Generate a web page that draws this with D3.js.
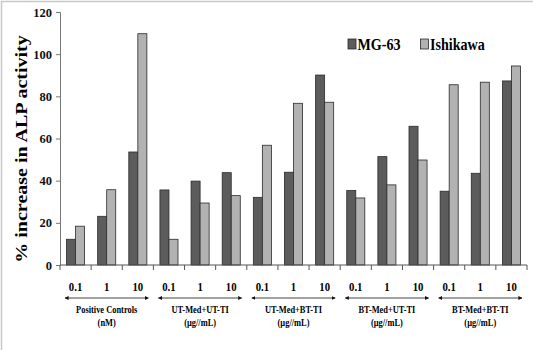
<!DOCTYPE html>
<html>
<head>
<meta charset="utf-8">
<script src="https://cdn.jsdelivr.net/npm/d3@7"></script>
<style>
  body { margin: 0; background: #fff; }
</style>
</head>
<body>
<svg id="chart" width="533" height="350"></svg>
<script>
// chart data
const doses = ["0.1", "1", "10"];
const groups = ["Positive Controls", "UT-Med+UT-TI", "UT-Med+BT-TI", "BT-Med+UT-TI", "BT-Med+BT-TI"];
const groupUnits = ["(nM)", "(\u00b5g//mL)", "(\u00b5g//mL)", "(\u00b5g//mL)", "(\u00b5g//mL)"];
const seriesNames = ["MG-63", "Ishikawa"];
const mg63 = [12.2, 23.1, 53.6, 35.6, 39.8, 43.8, 32.1, 44.0, 90.1, 35.3, 51.4, 65.8, 35.0, 43.5, 87.3];
const ishikawa = [18.4, 35.7, 109.7, 12.2, 29.4, 32.9, 56.8, 76.7, 77.2, 31.8, 38.0, 49.8, 85.5, 86.7, 94.4];
const yTicks = [0, 20, 40, 60, 80, 100, 120];

const colors = { "MG-63": "#5c5c5c", "Ishikawa": "#b2b2b2" };
const FONT = "'Liberation Serif', 'Times New Roman', Times, serif";

const svg = d3.select("#chart")
  .style("font-family", FONT)
  .style("font-weight", "bold");

// frame (left and top edge only, like the original)
svg.append("path")
  .attr("d", "M1.5,350 L1.5,1.5 L533,1.5")
  .attr("fill", "none")
  .attr("stroke", "#c8c8c8")
  .attr("stroke-width", 1.5);

const margin = { left: 60, right: 6, top: 12, bottom: 85 };
const width = 533 - margin.left - margin.right;
const height = 350 - margin.top - margin.bottom;

const g = svg.append("g").attr("transform", `translate(${margin.left},${margin.top})`);

// one band per (group, dose)
const cats = [];
groups.forEach((gr, gi) => doses.forEach((d, di) => cats.push({ key: gi + "_" + di, group: gi, dose: d })));

const x = d3.scaleBand().domain(cats.map(c => c.key)).range([0, width]);
const xInner = d3.scaleBand().domain(seriesNames).range([x.bandwidth() * 0.21, x.bandwidth() * 0.79]);
const y = d3.scaleLinear().domain([0, 120]).range([height, 0]);

// bars
const rows = cats.map((c, i) => ({ key: c.key, values: [mg63[i], ishikawa[i]] }));
const grp = g.selectAll("g.cat").data(rows).enter().append("g")
  .attr("class", "cat")
  .attr("transform", d => `translate(${x(d.key)},0)`);

grp.selectAll("rect")
  .data(d => d.values.map((v, i) => ({ name: seriesNames[i], value: v })))
  .enter().append("rect")
  .attr("x", d => xInner(d.name))
  .attr("y", d => y(d.value))
  .attr("width", xInner.bandwidth())
  .attr("height", d => height - y(d.value))
  .attr("fill", d => colors[d.name])
  .attr("stroke", "#2a2a2a")
  .attr("stroke-width", 0.8);

// y axis
const yAxis = g.append("g")
  .call(d3.axisLeft(y).tickValues(yTicks).tickSize(4).tickPadding(4));
yAxis.attr("font-family", null);
yAxis.select(".domain").attr("stroke", "#777");
yAxis.selectAll(".tick line").attr("stroke", "#777");
yAxis.selectAll("text")
  .style("font-family", FONT)
  .style("font-size", "12.5px")
  .attr("fill", "#111");

// x axis with category boundary ticks
const xAxisG = g.append("g").attr("transform", `translate(0,${height})`);
xAxisG.append("line")
  .attr("x1", 0).attr("x2", width)
  .attr("stroke", "#555");
const boundaries = cats.map(c => x(c.key)).concat([width]);
xAxisG.selectAll("line.tick").data(boundaries).enter().append("line")
  .attr("class", "tick")
  .attr("x1", d => d).attr("x2", d => d)
  .attr("y1", 0).attr("y2", 5)
  .attr("stroke", "#555");

// dose labels (narrowed a bit, the original is squeezed sideways)
xAxisG.selectAll("text.dose").data(cats).enter().append("text")
  .attr("class", "dose")
  .attr("transform", d => `translate(${x(d.key) + x.bandwidth() / 2},26) scale(0.86,1)`)
  .attr("text-anchor", "middle")
  .style("font-size", "12.5px")
  .text(d => d.dose);

// arrows and group labels
const defs = svg.append("defs");
defs.append("marker")
  .attr("id", "arrow")
  .attr("viewBox", "0 0 10 10")
  .attr("refX", 9).attr("refY", 5)
  .attr("markerWidth", 5).attr("markerHeight", 5)
  .attr("orient", "auto-start-reverse")
  .append("path")
  .attr("d", "M0,0 L10,5 L0,10 z")
  .attr("fill", "#111");

const groupW = x.bandwidth() * doses.length;
groups.forEach((gr, gi) => {
  const x0 = x(gi + "_0");
  xAxisG.append("line")
    .attr("x1", x0 + 5).attr("x2", x0 + groupW - 5)
    .attr("y1", 33).attr("y2", 33)
    .attr("stroke", "#111")
    .attr("stroke-width", 0.8)
    .attr("marker-start", "url(#arrow)")
    .attr("marker-end", "url(#arrow)");
  xAxisG.append("text")
    .attr("transform", `translate(${x0 + groupW / 2},48) scale(0.8,1)`)
    .attr("text-anchor", "middle")
    .style("font-size", "10.5px")
    .text(gr);
  xAxisG.append("text")
    .attr("transform", `translate(${x0 + groupW / 2},61) scale(0.8,1)`)
    .attr("text-anchor", "middle")
    .style("font-size", "10.5px")
    .text(groupUnits[gi]);
});

// y label
svg.append("text")
  .attr("transform", "translate(27,149) rotate(-90) scale(1,0.8)")
  .attr("text-anchor", "middle")
  .style("font-size", "20px")
  .text("% increase in ALP activity");

// legend
const legend = svg.append("g").attr("transform", "translate(348,39)");
const legendX = [0, 72.5];
seriesNames.forEach((s, i) => {
  const lg = legend.append("g").attr("transform", `translate(${legendX[i]},0)`);
  lg.append("rect")
    .attr("width", 8).attr("height", 10)
    .attr("fill", colors[s])
    .attr("stroke", "#2a2a2a")
    .attr("stroke-width", 0.8);
  lg.append("text")
    .attr("transform", "translate(9.5,10.5) scale(0.83,1)")
    .style("font-size", "17px")
    .text(s);
});
</script>
</body>
</html>
